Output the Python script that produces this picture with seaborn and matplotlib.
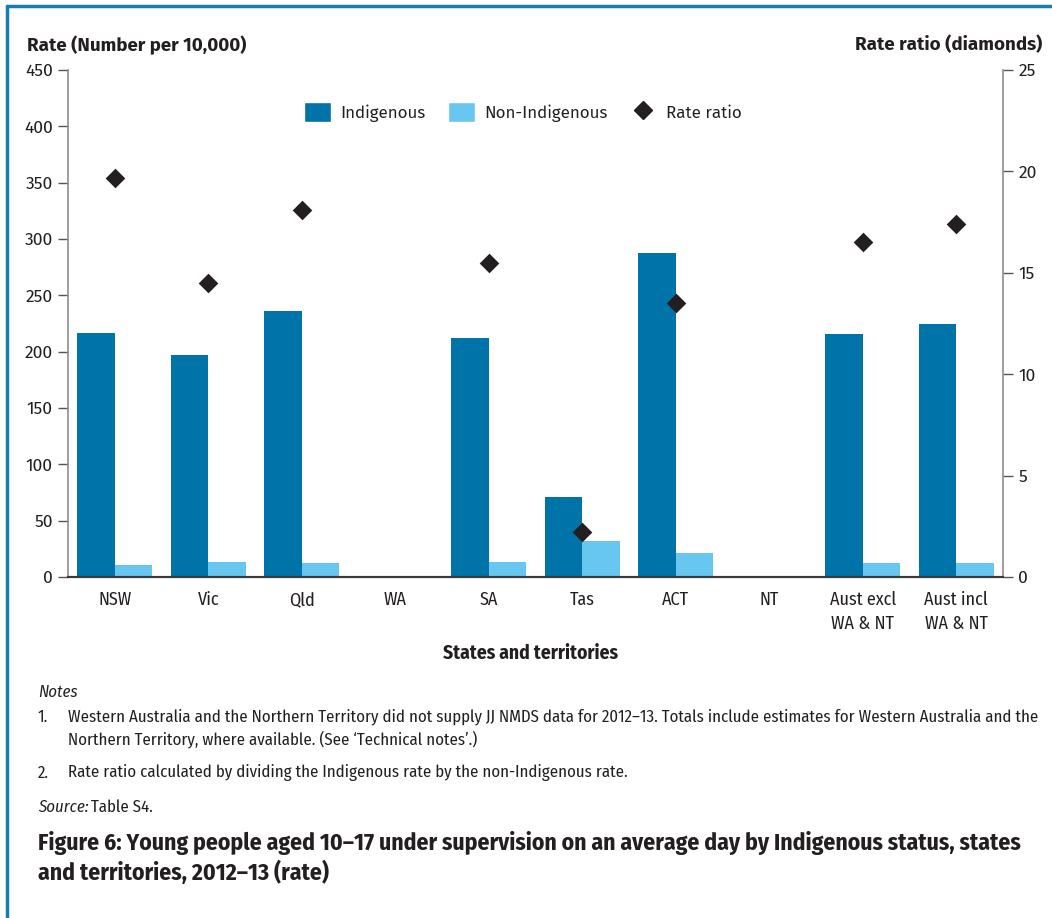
import numpy as np
import pandas as pd
import matplotlib.pyplot as plt
import seaborn as sns
from matplotlib.patches import Patch
from matplotlib.lines import Line2D

# ---- data ----
states = ["NSW", "Vic", "Qld", "WA", "SA", "Tas", "ACT", "NT",
          "Aust excl\nWA & NT", "Aust incl\nWA & NT"]
indigenous = [217, 197, 236, np.nan, 212, 71, 288, np.nan, 216, 225]
non_indigenous = [11, 13.5, 12.5, np.nan, 13, 32, 21.5, np.nan, 12.5, 12.5]
rate_ratio = [19.7, 14.5, 18.1, np.nan, 15.5, 2.2, 13.5, np.nan, 16.5, 17.4]

status = ["Indigenous", "Non-Indigenous"]
colours = ["#0073a9", "#67c7f1"]
ink = "#231f20"

df = pd.DataFrame({"state": states * 2,
                   "status": [status[0]] * len(states) + [status[1]] * len(states),
                   "rate": indigenous + non_indigenous})
ratio_df = pd.DataFrame({"state": states, "ratio": rate_ratio})

sns.set_style("white")
plt.rcParams["font.family"] = ["Fira Sans", "Open Sans", "DejaVu Sans"]
cond = ["Fira Sans Condensed", "DejaVu Sans"]

fig = plt.figure(figsize=(10.52, 9.18), dpi=100)
ax = fig.add_axes([0.0646, 0.3715, 0.8888, 0.5522])

sns.barplot(data=df, x="state", y="rate", hue="status", order=states,
            hue_order=status, palette=colours, width=0.8, saturation=1,
            linewidth=0, ax=ax, legend=False)
ax.set_ylim(0, 450)
ax.set_yticks(range(0, 451, 50))
ax.set_xlim(-0.5, len(states) - 0.5)
ax.set_xlabel("")
ax.set_ylabel("")

ax2 = ax.twinx()
sns.stripplot(data=ratio_df, x="state", y="ratio", order=states, jitter=False,
              marker="D", s=10, color=ink, ax=ax2, zorder=5)
ax2.set_ylim(0, 25)
ax2.set_yticks(range(0, 26, 5))
ax2.set_ylabel("")
ax2.set_xlim(-0.5, len(states) - 0.5)

for a in (ax, ax2):
    a.spines["top"].set_visible(False)
    a.spines["left"].set_color("#8c8c8c")
    a.spines["right"].set_color("#8c8c8c")
    a.spines["bottom"].set_color("#3a3a3a")
    a.spines["left"].set_linewidth(1.2)
    a.spines["right"].set_linewidth(1.2)
    a.spines["bottom"].set_linewidth(1.5)
ax.spines["right"].set_visible(False)
ax2.spines["left"].set_visible(False)

ax.tick_params(axis="y", direction="out", length=7, width=1, color="#555555",
               labelsize=12.5, labelcolor=ink, pad=4, left=True)
ax2.tick_params(axis="y", direction="out", length=7, width=1, color="#555555",
                labelsize=12.5, labelcolor=ink, pad=4, right=True)
ax.tick_params(axis="x", length=0, pad=10)
for lab in ax.get_xticklabels():
    lab.set_family(cond)
    lab.set_fontsize(13)
    lab.set_color(ink)
    lab.set_linespacing(1.45)

# legend
handles = [Patch(facecolor=colours[0], label=status[0]),
           Patch(facecolor=colours[1], label=status[1]),
           Line2D([], [], marker="D", color=ink, linestyle="", markersize=9,
                  label="Rate ratio")]
fig.legend(handles=handles, loc="center", bbox_to_anchor=(0.497, 0.878), ncol=3,
           frameon=False, fontsize=12.2, handlelength=1.6, handleheight=1.5,
           handletextpad=0.55, columnspacing=1.3, labelcolor=ink)

# axis titles
fig.text(0.026, 0.951, "Rate (Number per 10,000)", fontsize=13.5,
         fontweight="bold", color=ink, va="center")
fig.text(0.991, 0.951, "Rate ratio (diamonds)", fontsize=13.5,
         fontweight="bold", color=ink, va="center", ha="right")
fig.text(0.504, 0.288, "States and territories", family=cond, fontsize=14,
         fontweight="bold", color=ink, ha="center", va="center")

# notes
fs = 12.1
fig.text(0.036, 0.246, "Notes", family=cond, style="italic", fontsize=fs,
         color=ink, va="center")
fig.text(0.036, 0.219, "1.", family=cond, fontsize=fs, color=ink, va="center")
fig.text(0.065, 0.219, "Western Australia and the Northern Territory did not supply JJ NMDS "
         "data for 2012\u201313. Totals include estimates for Western Australia and the",
         family=cond, fontsize=fs, color=ink, va="center")
fig.text(0.065, 0.195, "Northern Territory, where available. (See \u2018Technical notes\u2019.)",
         family=cond, fontsize=fs, color=ink, va="center")
fig.text(0.036, 0.158, "2.", family=cond, fontsize=fs, color=ink, va="center")
fig.text(0.065, 0.158, "Rate ratio calculated by dividing the Indigenous rate by the "
         "non-Indigenous rate.", family=cond, fontsize=fs, color=ink, va="center")
fig.text(0.036, 0.121, "Source:", family=cond, style="italic", fontsize=fs,
         color=ink, va="center")
fig.text(0.0865, 0.121, "Table S4.", family=cond, fontsize=fs, color=ink, va="center")

fig.text(0.036, 0.0655, "Figure 6: Young people aged 10\u201317 under supervision on an "
         "average day by Indigenous status, states\nand territories, 2012\u201313 (rate)",
         family=cond, fontsize=17, fontweight="bold", color=ink, va="center",
         linespacing=1.3)

# frame (left and top only)
border = "#1a7db0"
fig.add_artist(Line2D([0.0065, 0.0065], [0, 0.993], color=border, lw=2.5,
                      transform=fig.transFigure))
fig.add_artist(Line2D([0.0065, 1], [0.993, 0.993], color=border, lw=2.5,
                      transform=fig.transFigure))

fig.savefig("out.png", dpi=100, facecolor="white")
